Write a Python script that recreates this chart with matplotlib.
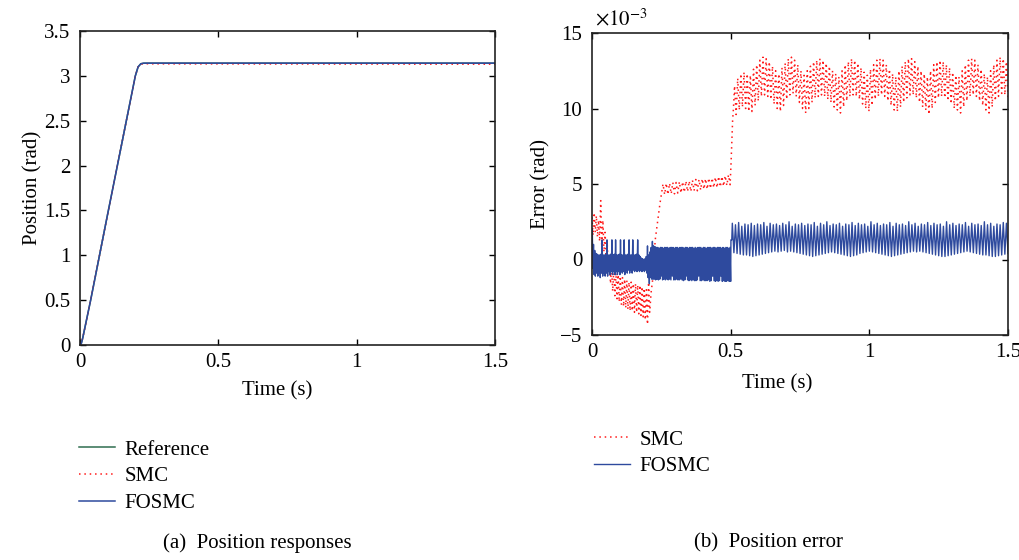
import numpy as np
import matplotlib.pyplot as plt

plt.rcParams["font.family"] = ["Liberation Serif", "DejaVu Serif"]
plt.rcParams["mathtext.fontset"] = "stix"
plt.rcParams["font.size"] = 15

# (a) position responses, rad
t_pos = [0, 0.005, 0.01, 0.0385, 0.1, 0.15, 0.2, 0.21, 0.22, 0.23, 0.25, 1.5]
ref_pos = [0, 0.02, 0.08, 0.5, 1.46, 2.23, 3.0, 3.1, 3.135, 3.141, 3.1416, 3.1416]
smc_pos = [0, 0.02, 0.08, 0.5, 1.46, 2.23, 3.0, 3.1, 3.13, 3.136, 3.134, 3.13]
fosmc_pos = [0, 0.02, 0.08, 0.5, 1.46, 2.23, 3.0, 3.1, 3.135, 3.141, 3.1415, 3.1415]

# (b) position error, in units of 1e-3 rad
# FOSMC: peaks / troughs of each chattering cycle, per segment
fosmc_pk1 = [2.0, 1.0, 0.6, 0.4, 0.35, 0.3, 0.3, 0.35, 1.3, 0.3,
             0.3, 0.35, 1.3, 0.3, 0.3, 0.35, 1.3, 0.3, 0.35, 1.3,
             0.3, 0.3, 0.35, 1.3, 0.3, 0.3, 1.3, 0.3, 0.3, 0.35,
             1.3, 0.3, 0.3, 1.3, 0.3, 0.3, 0.35, 1.3, 0.3, 0.2,
             0.1, 0.05, 0.0, 0.05, 0.2, 0.9, 0.3, 0.5, 0.8, 1.2]
fosmc_tr1 = [-0.6, -1.0, -1.1, -0.9, -1.1, -0.9, -1.2, -0.9, -1.1, -0.9,
             -1.1, -0.9, -1.1, -0.8, -1.0, -0.8, -1.0, -0.8, -1.0, -0.8,
             -1.0, -0.8, -1.0, -0.8, -0.9, -0.8, -1.0, -0.7, -0.9, -0.7,
             -0.9, -0.7, -0.9, -0.7, -0.8, -0.7, -0.8, -0.7, -0.8, -0.7,
             -0.8, -0.7, -0.8, -0.7, -0.9, -1.2, -1.6, -1.2, -1.3, -1.3]
fosmc_pk2 = [0.9, 0.85, 0.8, 0.8, 0.75, 0.8, 0.8, 0.75, 0.8, 0.8,
             0.8, 0.75, 0.8, 0.8, 0.8, 0.75, 0.8, 0.8, 0.75, 0.8,
             0.8, 0.8, 0.75, 0.8, 0.8, 0.75, 0.8, 0.8, 0.8, 0.75,
             0.8, 0.75, 0.8, 0.8, 0.8, 0.75, 0.8, 0.8, 0.75, 0.8,
             0.8, 0.8, 0.75, 0.8, 0.8, 0.75, 0.8, 0.8, 0.8, 0.75,
             0.8, 0.75, 0.8, 0.8, 0.75, 0.8]
fosmc_tr2 = [-1.3, -1.35, -1.3, -1.35, -1.3, -1.1, -1.35, -1.3, -1.35, -1.3,
             -1.35, -1.3, -1.35, -1.1, -1.35, -1.35, -1.3, -1.35, -1.35, -1.3,
             -1.35, -1.4, -1.35, -1.1, -1.35, -1.4, -1.35, -1.4, -1.35, -1.4,
             -1.4, -1.35, -1.1, -1.4, -1.4, -1.35, -1.4, -1.4, -1.4, -1.35,
             -1.45, -1.4, -1.1, -1.4, -1.45, -1.4, -1.45, -1.4, -1.1, -1.45,
             -1.4, -1.45, -1.45, -1.4, -1.45, -1.45]
fosmc_step_t = [0.501, 0.504]
fosmc_step_e = [1.3, 1.3]
fosmc_pk3 = [2.4, 2.3, 2.45, 2.2, 2.35, 2.3, 2.4, 2.25, 2.35, 2.3,
             2.45, 2.2, 2.4, 2.3, 2.35, 2.25, 2.4, 2.3, 2.5, 2.2,
             2.35, 2.3, 2.4, 2.25, 2.35, 2.3, 2.45, 2.2, 2.4, 2.3,
             2.5, 2.25, 2.35, 2.3, 2.4, 2.2, 2.35, 2.3, 2.45, 2.25,
             2.4, 2.3, 2.35, 2.2, 2.5, 2.3, 2.4, 2.25, 2.35, 2.3,
             2.45, 2.2, 2.4, 2.3, 2.35, 2.25, 2.5, 2.3, 2.4, 2.2,
             2.35, 2.3, 2.45, 2.25, 2.4, 2.3, 2.35, 2.2, 2.5, 2.3,
             2.4, 2.25, 2.35, 2.3, 2.45, 2.2, 2.4, 2.3, 2.35, 2.25,
             2.5, 2.3, 2.4, 2.2, 2.35, 2.3, 2.45, 2.4]
fosmc_tr3 = [0.45, 0.4, 0.35, 0.3, 0.3, 0.25, 0.2, 0.25, 0.3, 0.35,
             0.4, 0.45, 0.5, 0.55, 0.5, 0.55, 0.6, 0.5, 0.55, 0.5,
             0.45, 0.4, 0.35, 0.3, 0.25, 0.2, 0.25, 0.3, 0.35, 0.4,
             0.45, 0.5, 0.45, 0.4, 0.35, 0.3, 0.25, 0.2, 0.25, 0.3,
             0.4, 0.45, 0.5, 0.55, 0.5, 0.45, 0.4, 0.35, 0.3, 0.25,
             0.2, 0.25, 0.3, 0.35, 0.4, 0.45, 0.5, 0.55, 0.5, 0.55,
             0.5, 0.45, 0.4, 0.35, 0.3, 0.25, 0.2, 0.2, 0.25, 0.3,
             0.35, 0.4, 0.45, 0.5, 0.55, 0.5, 0.45, 0.4, 0.35, 0.3,
             0.3, 0.25, 0.2, 0.2, 0.25, 0.3, 0.35, 0.4]

# SMC
smc_pk1 = [2.8, 3.1, 2.9, 2.6, 3.9, 2.6, 1.8, 1.0, 0.2, -0.5,
           -0.7, -0.9, -1.0, -1.1, -1.2, -1.3, -1.4, -1.5, -1.5, -1.6,
           -1.6, -1.7, -1.7, -1.8, -1.9, -2.0, -1.5]
smc_tr1 = [1.6, 1.8, 1.5, 1.2, 0.7, 0.5, 0.2, -0.6, -1.6, -2.1,
           -2.4, -2.6, -2.8, -3.0, -3.1, -3.2, -3.3, -3.4, -3.4, -3.5,
           -3.5, -3.6, -3.7, -3.8, -4.0, -4.3, -3.5]
smc_rise_t = [0.213, 0.219, 0.223, 0.228, 0.237, 0.245, 0.252]
smc_rise_e = [-2.2, -1.3, 0.0, 1.3, 2.6, 3.7, 4.5]
smc_pk2 = [5.0, 5.05, 5.05, 5.1, 5.1, 5.15, 5.15, 5.2, 5.2, 5.25, 5.3,
           5.3, 5.35, 5.35, 5.4, 5.4, 5.45, 5.5, 5.5, 5.55, 5.6]
smc_tr2 = [4.3, 4.3, 4.35, 4.35, 4.4, 4.4, 4.45, 4.5, 4.5, 4.55, 4.55,
           4.6, 4.65, 4.65, 4.7, 4.75, 4.75, 4.8, 4.85, 4.9, 4.95]
smc_step_t = [0.501, 0.504, 0.507, 0.51]
smc_step_e = [6.2, 7.8, 9.2, 10.0]
smc_pk3 = [11.5, 12.0, 12.3, 12.4, 12.3, 12.2,
           12.6, 12.9, 13.2, 13.4, 13.3, 13.1, 12.8, 12.5, 12.3,
           12.7, 13.0, 13.3, 13.4, 13.2, 12.9, 12.5, 12.2,
           12.5, 12.8, 13.1, 13.2, 13.3, 13.2, 13.0, 12.8, 12.5, 12.3, 12.1,
           12.5, 12.9, 13.1, 13.3, 13.2, 13.0, 12.7, 12.4, 12.2,
           12.6, 12.9, 13.2, 13.3, 13.2, 12.9, 12.6, 12.3, 12.1,
           12.5, 12.8, 13.1, 13.3, 13.3, 13.1, 12.8, 12.5, 12.3, 12.1,
           12.5, 12.9, 13.1, 13.2, 13.1, 12.9, 12.7, 12.4, 12.2, 12.1,
           12.5, 12.9, 13.2, 13.3, 13.2, 12.9, 12.6, 12.3, 12.1,
           12.5, 12.9, 13.2, 13.4, 13.3, 13.1]
smc_tr3 = [9.6, 9.9, 10.1, 10.0, 9.8, 9.8,
           10.2, 10.5, 10.8, 10.9, 10.8, 10.6, 10.3, 10.0, 9.8,
           10.2, 10.6, 10.9, 11.0, 10.8, 10.4, 10.0, 9.7,
           10.0, 10.4, 10.7, 10.8, 10.9, 10.8, 10.6, 10.4, 10.1, 9.9, 9.7,
           10.1, 10.5, 10.8, 10.9, 10.8, 10.6, 10.3, 10.0, 9.8,
           10.2, 10.6, 10.8, 10.9, 10.8, 10.5, 10.2, 9.9, 9.8,
           10.1, 10.4, 10.7, 10.9, 10.9, 10.7, 10.4, 10.1, 9.9, 9.6,
           10.0, 10.4, 10.7, 10.8, 10.7, 10.5, 10.3, 10.0, 9.9, 9.7,
           10.1, 10.5, 10.8, 10.9, 10.8, 10.5, 10.2, 9.9, 9.7,
           10.1, 10.5, 10.8, 11.0, 10.9, 10.7]


def zigzag(t0, t1, peaks, troughs):
    vals = []
    for p, q in zip(peaks, troughs):
        vals += [p, q]
    return list(np.linspace(t0, t1, len(vals))), vals


# assemble FOSMC error
ta, ea = zigzag(0.001, 0.22, fosmc_pk1, fosmc_tr1)
tb, eb = zigzag(0.222, 0.5, fosmc_pk2, fosmc_tr2)
tc, ec = zigzag(0.506, 1.5, fosmc_pk3, fosmc_tr3)
t_fosmc = [0.0] + ta + tb + fosmc_step_t + tc
e_fosmc = [0.0] + ea + eb + fosmc_step_e + ec

# assemble SMC error
ta, ea = zigzag(0.0, 0.208, smc_pk1, smc_tr1)
tb, eb = zigzag(0.256, 0.498, smc_pk2, smc_tr2)
tc, ec = zigzag(0.514, 1.5, smc_pk3, smc_tr3)
t_smc = ta + smc_rise_t + tb + smc_step_t + tc
e_smc = ea + smc_rise_e + eb + smc_step_e + ec

green = "#2f6e4f"
red = "#ff1a1a"
blue = "#2e4a9e"

fig = plt.figure(figsize=(10.2, 5.6), dpi=100)
ax1 = fig.add_axes([80 / 1020, 1 - 345 / 560, 415 / 1020, 314 / 560])
ax2 = fig.add_axes([592 / 1020, 1 - 335 / 560, 416 / 1020, 302 / 560])

l1, = ax1.plot(t_pos, ref_pos, color=green, lw=1.1, label="Reference")
l2, = ax1.plot(t_pos, smc_pos, color=red, lw=1.1, ls=(0, (1, 2.5)), label="SMC")
l3, = ax1.plot(t_pos, fosmc_pos, color=blue, lw=1.1, label="FOSMC")
ax1.set_xlim(0, 1.5)
ax1.set_ylim(0, 3.5)
ax1.set_xticks([0, 0.5, 1, 1.5])
ax1.set_xticklabels(["0", "0.5", "1", "1.5"])
ax1.set_yticks([0, 0.5, 1, 1.5, 2, 2.5, 3, 3.5])
ax1.set_yticklabels(["0", "0.5", "1", "1.5", "2", "2.5", "3", "3.5"])
ax1.set_xlabel("Time (s)")
ax1.set_ylabel("Position (rad)")
ax1.xaxis.set_label_coords(0.475, -0.115)
ax1.yaxis.set_label_coords(-0.09, 0.5)

ax2.plot(t_smc, e_smc, color=red, lw=1.1, ls=(0, (1, 2.5)), label="SMC")
ax2.plot(t_fosmc, e_fosmc, color=blue, lw=1.0, label="FOSMC")
ax2.set_xlim(0, 1.5)
ax2.set_ylim(-5, 15)
ax2.set_xticks([0, 0.5, 1, 1.5])
ax2.set_xticklabels(["0", "0.5", "1", "1.5"])
ax2.set_yticks([-5, 0, 5, 10, 15])
ax2.set_yticklabels(["\u22125", "0", "5", "10", "15"])
ax2.set_xlabel("Time (s)")
ax2.set_ylabel("Error (rad)")
ax2.xaxis.set_label_coords(0.445, -0.13)
ax2.yaxis.set_label_coords(-0.1, 0.5)
fig.text(595 / 1020, 1 - 25 / 560, r"$\times10^{-3}$", ha="left", va="baseline", fontsize=15)

for ax in (ax1, ax2):
    ax.tick_params(direction="in", length=4, width=1, top=True, right=True, pad=7)
    ax.tick_params(axis="x", pad=6)
    for s in ax.spines.values():
        s.set_linewidth(1.2)
        s.set_color("#222222")

fig.legend(handles=[l1, l2, l3], loc="upper left", bbox_to_anchor=(79 / 1020, 1 - 440 / 560),
           frameon=False, borderpad=0, borderaxespad=0, handlelength=1.75,
           handletextpad=0.45, labelspacing=0.35)
h = ax2.get_legend_handles_labels()[0]
fig.legend(handles=h, loc="upper left", bbox_to_anchor=(594 / 1020, 1 - 430 / 560),
           frameon=False, borderpad=0, borderaxespad=0, handlelength=1.75,
           handletextpad=0.45, labelspacing=0.35)

fig.text(257 / 1020, 1 - 543 / 560, "(a)  Position responses", ha="center", va="center")
fig.text(769 / 1020, 1 - 543 / 560, "(b)  Position error", ha="center", va="center")

fig.savefig("out.png", dpi=100)
